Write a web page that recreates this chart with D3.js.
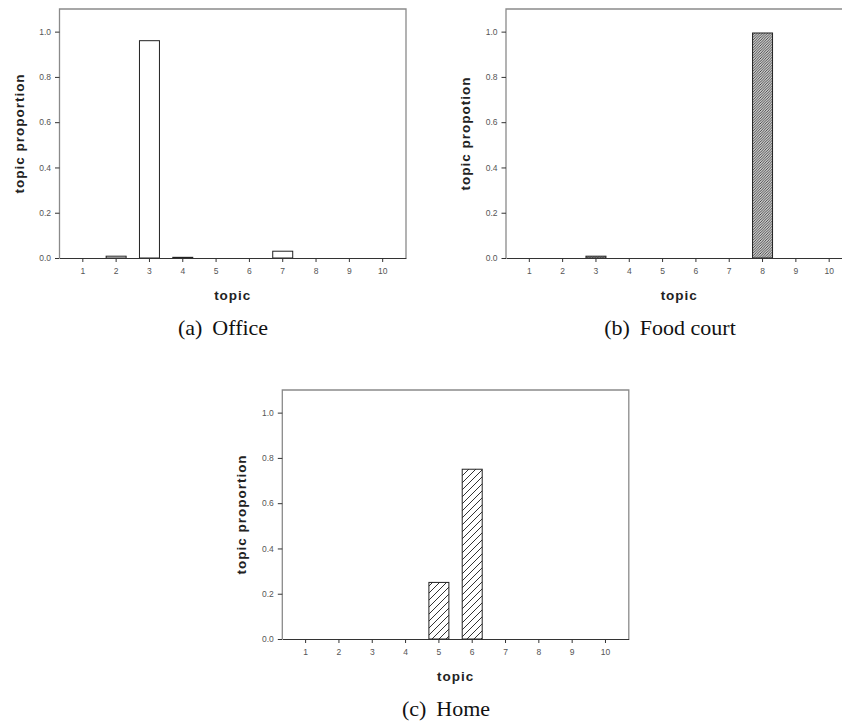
<!DOCTYPE html>
<html>
<head>
<meta charset="utf-8">
<script src="https://cdn.jsdelivr.net/npm/d3@7"></script>
<style>
	body { margin: 0; background: #fff; }
	.sans { font-family: 'Liberation Sans', Arial, sans-serif; }
	.serif { font-family: 'Liberation Serif', 'Times New Roman', Times, serif; }
</style>
</head>
<body>
<div id="container"></div>
<script>
'use strict';

// data
const topics = ['1', '2', '3', '4', '5', '6', '7', '8', '9', '10'];
const office = [0, 0.008, 0.96, 0.003, 0, 0, 0.03, 0, 0, 0];
const foodCourt = [0, 0, 0.008, 0, 0, 0, 0, 0.994, 0, 0];
const home = [0, 0, 0, 0, 0.25, 0.75, 0, 0, 0, 0];
const yTicks = [0, 0.2, 0.4, 0.6, 0.8, 1.0];
const yMax = 1.1;

const panels = [
	{ values: office, left: 59.5, top: 9, fill: '#fff', ylabel: 'topic proportion', tag: '(a)', name: 'Office', capX: 223 },
	{ values: foodCourt, left: 506, top: 9, fill: 'url(#hatchDense)', ylabel: 'topic propotion', tag: '(b)', name: 'Food court', capX: 670 },
	{ values: home, left: 282.3, top: 390, fill: 'url(#hatchWide)', ylabel: 'topic proportion', tag: '(c)', name: 'Home', capX: 446 },
];

const options = { width: 842, height: 721, plotW: 346.5, plotH: 249 };

const svg = d3.select('#container')
	.append('svg')
	.attr('width', options.width)
	.attr('height', options.height)
	.style('background', '#fff');

const defs = svg.append('defs');

function hatch(id, size, width) {
	defs.append('pattern')
		.attr('id', id)
		.attr('patternUnits', 'userSpaceOnUse')
		.attr('width', size)
		.attr('height', size)
		.call((p) => {
			p.append('rect').attr('width', size).attr('height', size).attr('fill', '#fff');
			p.append('path')
				.attr('d', `M0,${size} L${size},0 M${-size / 2},${size / 2} L${size / 2},${-size / 2} M${size / 2},${size * 1.5} L${size * 1.5},${size / 2}`)
				.attr('stroke', '#333')
				.attr('stroke-width', width);
		});
}
hatch('hatchDense', 2.6, 0.9);
hatch('hatchWide', 7, 1);

function drawPanel(p) {
	const bottom = p.top + options.plotH;
	const right = p.left + options.plotW;

	const x = d3.scaleBand().domain(topics).range([p.left, right]).padding(0.4);
	const y = d3.scaleLinear().domain([0, yMax]).range([bottom, p.top]);

	const g = svg.append('g');

	// frame
	g.append('path')
		.attr('d', `M${p.left},${bottom} V${p.top} H${right} V${bottom}`)
		.attr('fill', 'none')
		.attr('stroke', '#8a8a8a')
		.attr('stroke-width', 1.3);

	// bars
	const rows = topics.map((t, i) => ({ topic: t, value: p.values[i] })).filter((d) => d.value > 0);
	g.selectAll('rect.bar')
		.data(rows)
		.enter()
		.append('rect')
		.attr('class', 'bar')
		.attr('x', (d) => x(d.topic))
		.attr('width', x.bandwidth())
		.attr('y', (d) => y(d.value))
		.attr('height', (d) => y(0) - y(d.value))
		.attr('fill', p.fill)
		.attr('stroke', '#222')
		.attr('stroke-width', 1);

	// y axis
	const yAxis = g.append('g')
		.attr('transform', `translate(${p.left},0)`)
		.call(d3.axisLeft(y).tickValues(yTicks).tickFormat(d3.format('.1f')).tickSize(4.5).tickPadding(4));
	yAxis.select('.domain').remove();

	// x axis
	const xAxis = g.append('g')
		.attr('transform', `translate(0,${bottom})`)
		.call(d3.axisBottom(x).tickSize(4).tickPadding(6).tickSizeOuter(0));
	xAxis.select('.domain').attr('stroke', '#333').attr('stroke-width', 1.2);

	g.selectAll('.tick line').attr('stroke', '#333');
	g.selectAll('.tick text')
		.attr('fill', '#555')
		.attr('class', 'sans')
		.attr('font-family', null)
		.style('font-size', '8.5px');
	g.selectAll('.tick').each(function () { d3.select(this.parentNode).attr('font-family', null); });

	// axis titles
	g.append('text')
		.attr('class', 'sans')
		.attr('x', (p.left + right) / 2)
		.attr('y', bottom + 41.5)
		.attr('text-anchor', 'middle')
		.style('font-size', '13.5px')
		.style('font-weight', 'bold')
		.style('letter-spacing', '1px')
		.attr('fill', '#222')
		.text('topic');

	g.append('text')
		.attr('class', 'sans')
		.attr('transform', `translate(${p.left - 36},${(p.top + bottom) / 2}) rotate(-90)`)
		.attr('text-anchor', 'middle')
		.style('font-size', '13.5px')
		.style('font-weight', 'bold')
		.style('letter-spacing', '1px')
		.attr('fill', '#222')
		.text(p.ylabel);

	// caption
	const cap = svg.append('text')
		.attr('class', 'serif')
		.attr('x', p.capX)
		.attr('y', bottom + 76.5)
		.attr('text-anchor', 'middle')
		.style('font-size', '22px')
		.attr('fill', '#111');
	cap.append('tspan').text(p.tag);
	cap.append('tspan').attr('dx', 10).text(p.name);
}

panels.forEach(drawPanel);
</script>
</body>
</html>
